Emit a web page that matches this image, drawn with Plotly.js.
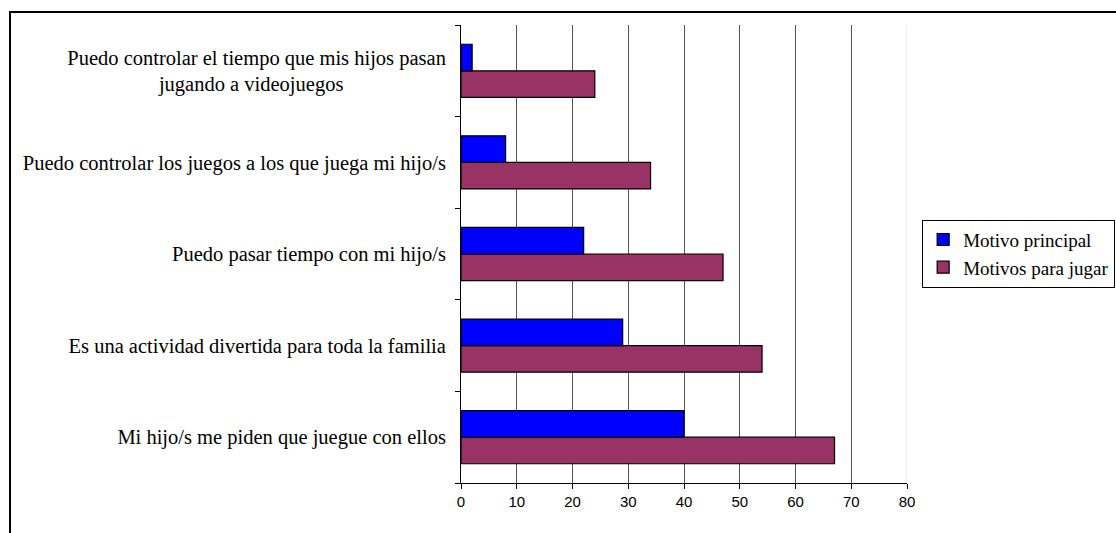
<!DOCTYPE html>
<html>
<head>
<meta charset="utf-8">
<script src="https://cdn.plot.ly/plotly-3.0.1.min.js"></script>
<style>
  html, body { margin: 0; padding: 0; background: #fff; }
  #wrap { position: relative; width: 1116px; height: 533px; overflow: hidden; }
  #chart { position: absolute; left: 0; top: 0; width: 1116px; height: 533px; }
  #frame { position: absolute; left: 9px; top: 11px; width: 1120px; height: 540px;
           border-top: 2px solid #000; border-left: 2px solid #000; pointer-events: none; }
</style>
</head>
<body>
<div id="wrap">
  <div id="chart"></div>
  <div id="frame"></div>
</div>
<script>
const NB = '\u00a0';
const categories = [
  'Mi hijo/s me piden que juegue con ellos',
  'Es una actividad divertida para toda la familia',
  'Puedo pasar tiempo con mi hijo/s',
  'Puedo controlar los juegos a los que juega mi hijo/s',
  'Puedo controlar el tiempo que mis hijos pasan<br>jugando a videojuegos' + NB.repeat(20)
];
const motivoPrincipal = [40, 29, 22, 8, 2];
const motivosParaJugar = [67, 54, 47, 34, 24];
const xTicks = [0, 10, 20, 30, 40, 50, 60, 70, 80];

const serif = 'Liberation Serif, Times New Roman, serif';
const sans = 'Liberation Sans, Arial, sans-serif';

const traces = [
  {
    type: 'bar', orientation: 'h', name: 'Motivos para jugar',
    y: categories, x: motivosParaJugar,
    marker: { color: '#993366', line: { color: '#000', width: 1.2 } }
  },
  {
    type: 'bar', orientation: 'h', name: 'Motivo principal',
    y: categories, x: motivoPrincipal,
    marker: { color: '#0000FF', line: { color: '#000', width: 1.2 } }
  }
];

const layout = {
  width: 1116, height: 533,
  margin: { l: 461, r: 209, t: 25, b: 50, pad: 0, autoexpand: false },
  paper_bgcolor: 'rgba(0,0,0,0)', plot_bgcolor: '#fff',
  font: { family: serif },
  barmode: 'group', bargap: 0.42, bargroupgap: 0,
  showlegend: true,
  legend: {
    x: 1.034, y: 0.575, xanchor: 'left', yanchor: 'top',
    traceorder: 'reversed',
    bgcolor: '#fff', bordercolor: '#000', borderwidth: 1,
    font: { family: serif, size: 19, color: '#000' },
    itemwidth: 30, tracegroupgap: 0
  },
  xaxis: {
    range: [0, 80], tickvals: xTicks, ticktext: xTicks.map(String),
    showgrid: true, gridcolor: '#555', gridwidth: 1,
    zeroline: false,
    showline: true, linecolor: '#000', linewidth: 1,
    ticks: 'outside', ticklen: 5, tickcolor: '#000',
    tickfont: { family: sans, size: 15, color: '#000' },
    fixedrange: true
  },
  yaxis: {
    type: 'category', categoryorder: 'array', categoryarray: categories,
    showgrid: false, zeroline: false,
    showline: true, linecolor: '#000', linewidth: 1,
    ticks: 'outside', ticklen: 5, tickcolor: '#000', tickson: 'boundaries',
    ticklabelstandoff: 10,
    tickfont: { family: serif, size: 20.5, color: '#000' },
    fixedrange: true
  },
  shapes: [
    { type: 'line', xref: 'x', yref: 'paper', x0: 80, x1: 80, y0: 0, y1: 1,
      line: { color: '#ddd', width: 1 }, layer: 'above' }
  ]
};

Plotly.newPlot('chart', traces, layout, { displayModeBar: false, staticPlot: true });
</script>
</body>
</html>
